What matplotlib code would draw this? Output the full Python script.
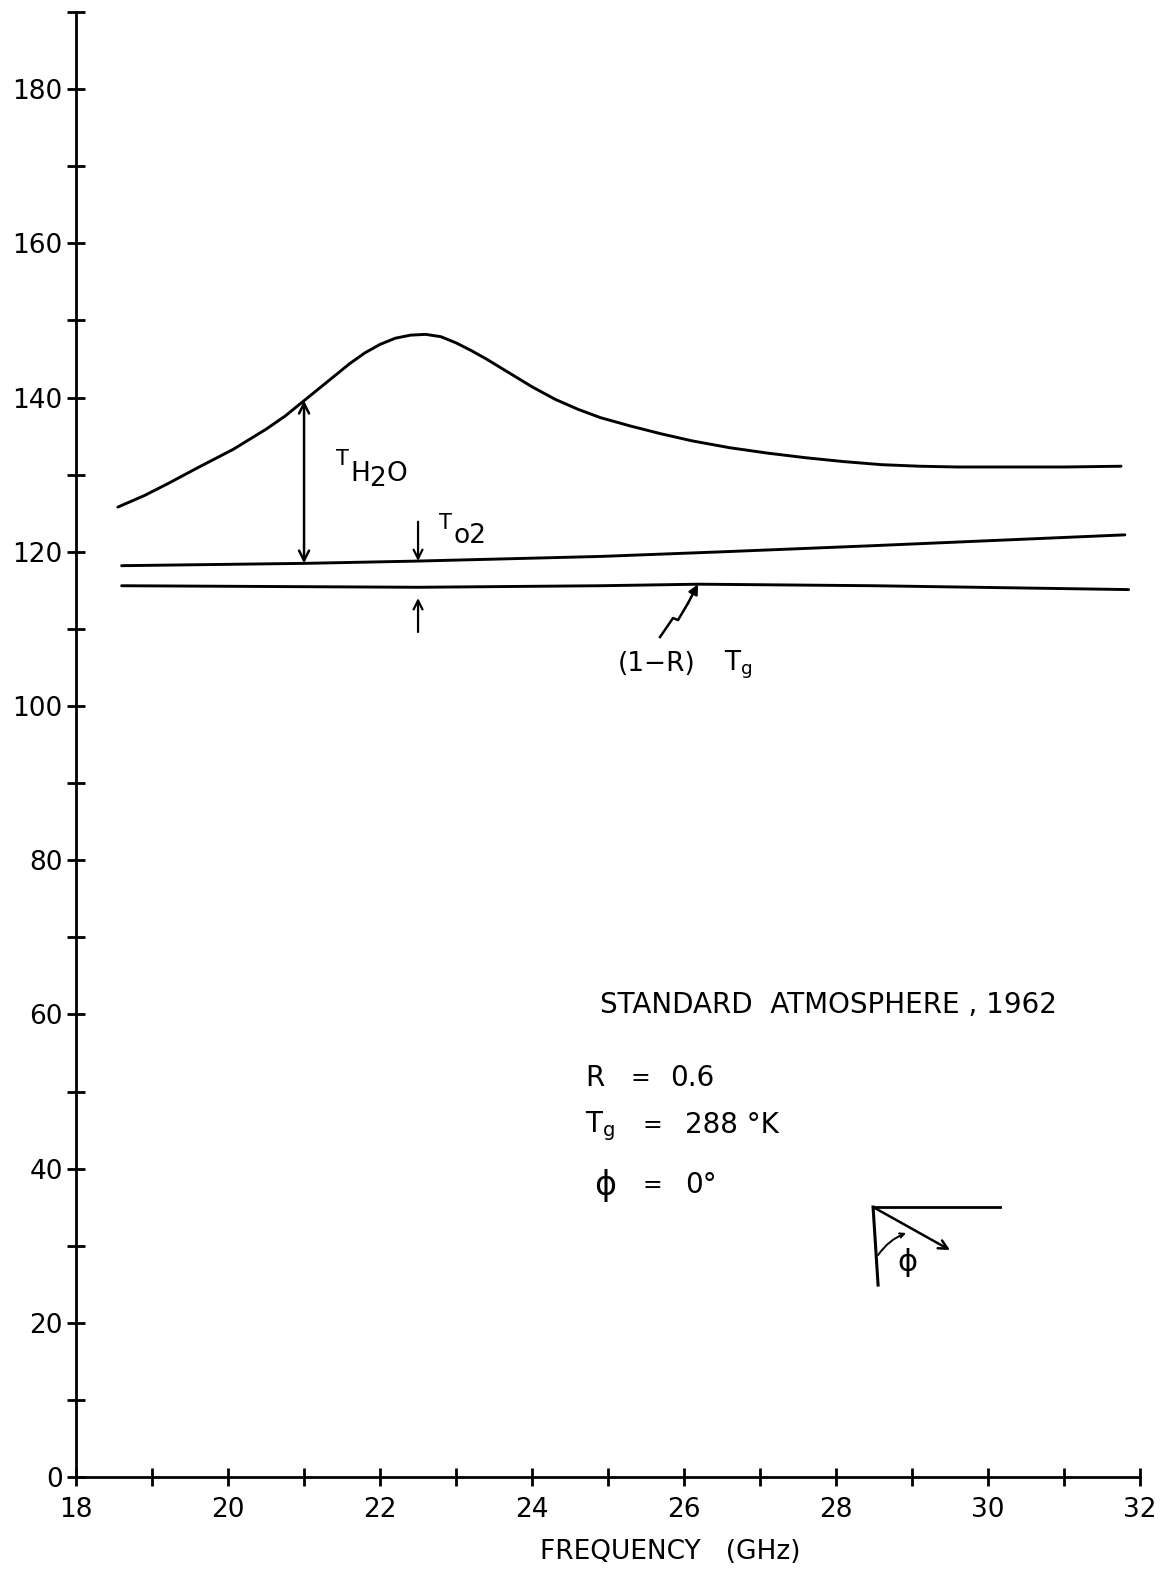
import matplotlib.pyplot as plt
import numpy as np
from matplotlib.ticker import MultipleLocator

plt.rcParams['font.family'] = ['DejaVu Sans']

# ---------------- DATA ----------------
# upper curve: sky + ground contribution including water vapour
freq_top = [18.55, 18.9, 19.2, 19.6, 20.07, 20.5, 20.75, 20.95, 21.2, 21.4,
            21.6, 21.8, 22.0, 22.2, 22.4, 22.6, 22.8, 23.0, 23.2, 23.4,
            23.6, 23.8, 24.0, 24.3, 24.6, 24.9, 25.3, 25.7, 26.1, 26.6,
            27.1, 27.6, 28.1, 28.6, 29.1, 29.6, 30.2, 31.0, 31.75]
temp_top = [125.8, 127.3, 128.8, 130.9, 133.3, 135.9, 137.6, 139.2, 141.2, 142.8,
            144.4, 145.8, 146.9, 147.7, 148.1, 148.2, 147.9, 147.1, 146.1, 145.0,
            143.8, 142.6, 141.4, 139.8, 138.5, 137.4, 136.3, 135.3, 134.4, 133.5,
            132.8, 132.2, 131.7, 131.3, 131.1, 131.0, 131.0, 131.0, 131.1]

# middle curve: ground + oxygen
freq_mid = [18.6, 21.0, 22.5, 24.9, 26.5, 28.5, 31.8]
temp_mid = [118.2, 118.5, 118.8, 119.4, 120.0, 120.8, 122.2]

# lower curve: (1-R) Tg
freq_low = [18.6, 22.5, 24.9, 26.2, 28.5, 31.85]
temp_low = [115.6, 115.4, 115.6, 115.8, 115.6, 115.1]

x_ticks = [18, 20, 22, 24, 26, 28, 30, 32]
y_ticks = [0, 20, 40, 60, 80, 100, 120, 140, 160, 180]

# ---------------- FIGURE ----------------
fig = plt.figure(figsize=(11.7, 15.69), dpi=100)
ax = fig.add_axes([0.065, 0.0586, 0.9094, 0.9337])

lw = 2.1
for fx, ty in [(freq_top, temp_top), (freq_mid, temp_mid), (freq_low, temp_low)]:
    ax.plot(fx, ty, color='black', lw=lw, solid_capstyle='round',
            solid_joinstyle='round')

ax.set_xlim(18, 32)
ax.set_ylim(0, 190)

for side in ['top', 'right']:
    ax.spines[side].set_visible(False)
for side in ['left', 'bottom']:
    ax.spines[side].set_linewidth(2.0)

ax.set_xticks(x_ticks)
ax.set_yticks(y_ticks)
ax.xaxis.set_minor_locator(MultipleLocator(1))
ax.yaxis.set_minor_locator(MultipleLocator(10))
ax.tick_params(which='both', direction='inout', length=13, width=2.0,
               labelsize=19)
ax.tick_params(axis='x', which='major', pad=8)
ax.tick_params(axis='y', which='major', pad=3)

ax.set_xlabel('FREQUENCY   (GHz)', fontsize=19)
ax.xaxis.set_label_coords(0.558, -0.042)

# ---------------- ANNOTATIONS ----------------
f_h2o = 21.0
top_at = np.interp(f_h2o, freq_top, temp_top)
mid_at = np.interp(f_h2o, freq_mid, temp_mid)
ax.annotate('', xy=(f_h2o, top_at), xytext=(f_h2o, mid_at),
            arrowprops=dict(arrowstyle='<->', lw=1.8, color='black',
                            mutation_scale=18, shrinkA=0, shrinkB=0))
ax.text(21.50, 132.0, 'T', fontsize=15, ha='center', va='center')
ax.text(21.74, 130.1, 'H', fontsize=19, ha='center', va='center')
ax.text(21.97, 129.4, '2', fontsize=19, ha='center', va='center')
ax.text(22.22, 130.1, 'O', fontsize=19, ha='center', va='center')

f_o2 = 22.5
mid_o2 = np.interp(f_o2, freq_mid, temp_mid)
low_o2 = np.interp(f_o2, freq_low, temp_low)
ax.annotate('', xy=(f_o2, mid_o2), xytext=(f_o2, 123.9),
            arrowprops=dict(arrowstyle='->', lw=1.6, color='black',
                            mutation_scale=16, shrinkA=0, shrinkB=0))
ax.annotate('', xy=(f_o2, low_o2 - 1.4), xytext=(f_o2, 109.6),
            arrowprops=dict(arrowstyle='->', lw=1.6, color='black',
                            mutation_scale=16, shrinkA=0, shrinkB=0))
ax.text(22.86, 123.8, 'T', fontsize=15, ha='center', va='center')
ax.text(23.18, 122.0, 'o2', fontsize=19, ha='center', va='center')

# zig-zag leader to the ground term
ax.plot([25.684, 25.855, 25.921, 26.05], [108.95, 111.41, 111.15, 113.3],
        color='black', lw=1.8)
ax.annotate('', xy=(26.184, np.interp(26.184, freq_low, temp_low)),
            xytext=(26.05, 113.3),
            arrowprops=dict(arrowstyle='-|>', lw=1.8, color='black',
                            mutation_scale=14, shrinkA=0, shrinkB=0))
ax.text(25.64, 105.4, '(1\u2212R)', fontsize=19, ha='center', va='center')
ax.text(26.52, 105.4, r'$\mathregular{T_g}$', fontsize=19, ha='left',
        va='center')

# ---------------- CONDITIONS ----------------
ax.text(24.895, 61.2, 'STANDARD  ATMOSPHERE , 1962', fontsize=20,
        ha='left', va='center')

ax.text(24.70, 51.7, 'R', fontsize=20, ha='left', va='center')
ax.text(25.42, 51.7, '=', fontsize=17, ha='center', va='center')
ax.text(25.82, 51.7, '0.6', fontsize=20, ha='left', va='center')

ax.text(24.70, 45.5, r'$\mathregular{T_g}$', fontsize=20, ha='left',
        va='center')
ax.text(25.58, 45.7, '=', fontsize=17, ha='center', va='center')
ax.text(26.01, 45.7, '288 \u00b0K', fontsize=20, ha='left', va='center')

ax.text(24.96, 37.8, '\u03d5', fontsize=24, ha='center', va='center')
ax.text(25.58, 37.9, '=', fontsize=17, ha='center', va='center')
ax.text(26.01, 37.9, '0\u00b0', fontsize=20, ha='left', va='center')

# viewing angle sketch
ax.plot([28.487, 30.158], [35.02, 35.02], color='black', lw=2.0)
ax.plot([28.487, 28.553], [35.02, 24.9], color='black', lw=2.2)
ax.annotate('', xy=(29.5, 29.44), xytext=(28.487, 35.02),
            arrowprops=dict(arrowstyle='->', lw=1.8, color='black',
                            mutation_scale=16, shrinkA=0, shrinkB=0))
ax.annotate('', xy=(28.921, 31.65), xytext=(28.553, 28.79),
            arrowprops=dict(arrowstyle='->', lw=1.4, color='black',
                            mutation_scale=8, shrinkA=0, shrinkB=0,
                            connectionstyle='arc3,rad=-0.15'))
ax.text(28.934, 27.8, '\u03d5', fontsize=22, ha='center', va='center')

fig.savefig('out.png', dpi=100)
